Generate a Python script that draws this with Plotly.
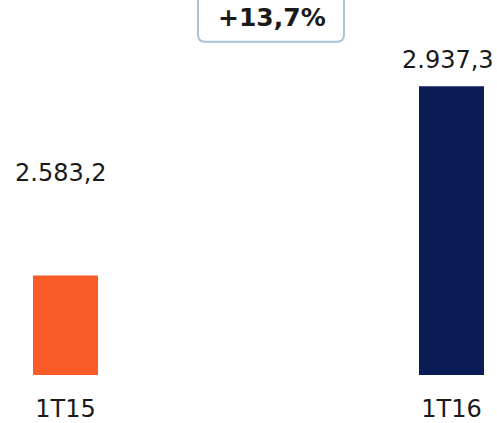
import plotly.graph_objects as go

categories = ["1T15", "1T16"]
values = [2583.2, 2937.3]
value_labels = ["2.583,2", "2.937,3"]
colors = ["#F95C28", "#0B1B54"]
growth_label = "+13,7%"

W, H = 497, 423
B = 45
plot_h = H - B

x = [0, 1]
fig = go.Figure()
fig.add_trace(go.Bar(
    x=x, y=values, marker=dict(color=colors, line=dict(width=0)),
    width=0.1684, hoverinfo="skip",
))

font = dict(family="DejaVu Sans, Verdana, sans-serif", size=24, color="#1a1a1a")

yshifts = [103, 26]
xshifts = [-5, -3]
for xi, v, lab, ys, xs in zip(x, values, value_labels, yshifts, xshifts):
    fig.add_annotation(x=xi, y=v, text=lab, showarrow=False, yanchor="middle",
                       yshift=ys, xshift=xs, font=font)

# growth box (rounded rectangle)
def px2x(p):
    return p / W

def px2y(p):
    return (plot_h - p) / plot_h

l, r, t, b, rad = 198, 344, -10, 42, 7
path = (f"M {px2x(l)},{px2y(t)} L {px2x(l)},{px2y(b - rad)} "
        f"Q {px2x(l)},{px2y(b)} {px2x(l + rad)},{px2y(b)} "
        f"L {px2x(r - rad)},{px2y(b)} "
        f"Q {px2x(r)},{px2y(b)} {px2x(r)},{px2y(b - rad)} "
        f"L {px2x(r)},{px2y(t)}")
fig.add_shape(type="path", xref="paper", yref="paper", path=path,
              line=dict(color="#AFC0D9", width=2), fillcolor="white")
fig.add_annotation(xref="paper", yref="paper", x=px2x(271.5), y=px2y(18),
                   text=f"<b>{growth_label}</b>", showarrow=False,
                   yanchor="middle", xanchor="center",
                   font=dict(family="DejaVu Sans, Verdana, sans-serif", size=25, color="#1a1a1a"))

fig.update_layout(
    width=W, height=H,
    margin=dict(l=0, r=0, t=0, b=B),
    paper_bgcolor="white", plot_bgcolor="white",
    showlegend=False,
    xaxis=dict(range=[-0.1697, 1.1179], tickvals=x, ticktext=categories,
               showgrid=False, zeroline=False, showline=False,
               ticks="outside", ticklen=12, tickcolor="rgba(0,0,0,0)",
               tickfont=font, fixedrange=True),
    yaxis=dict(range=[2396.96, 3098.9], visible=False, fixedrange=True),
)

fig.write_html("out.html", config={"displayModeBar": False},
               post_script="document.body.style.margin='0';document.body.style.overflow='hidden';")
